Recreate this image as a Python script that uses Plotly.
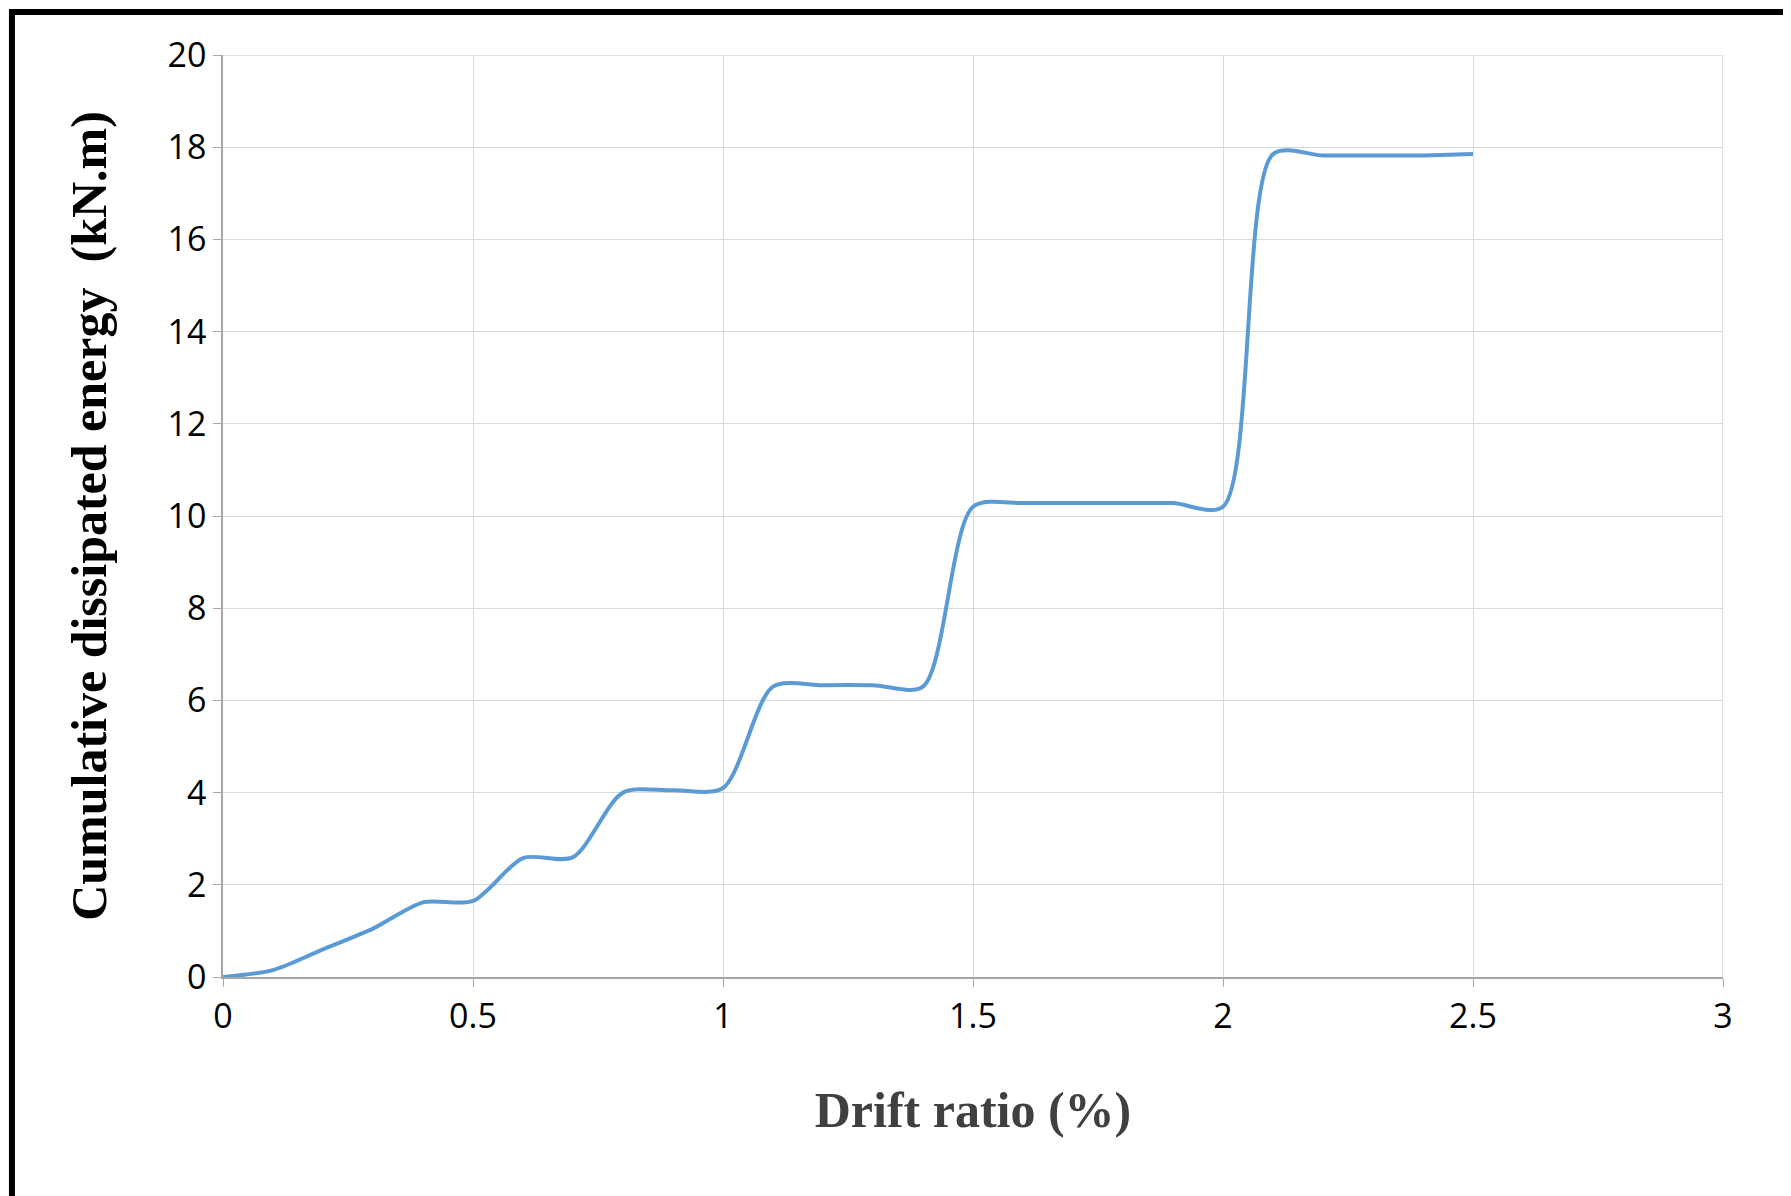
import plotly.graph_objects as go

# Drift ratio (%) and cumulative dissipated energy (kN.m)
drift = [0, 0.1, 0.2, 0.3, 0.4, 0.5, 0.6, 0.7, 0.8, 0.9, 1.0, 1.1, 1.2, 1.3,
         1.4, 1.5, 1.6, 1.7, 1.8, 1.9, 2.0, 2.1, 2.2, 2.3, 2.4, 2.5]
energy = [0, 0.15, 0.6, 1.05, 1.62, 1.65, 2.58, 2.6, 4.0, 4.05, 4.1, 6.3, 6.33, 6.33,
          6.3, 10.2, 10.28, 10.28, 10.28, 10.28, 10.2, 17.85, 17.82, 17.82, 17.82, 17.85]

fig = go.Figure()
fig.add_trace(go.Scatter(x=drift, y=energy, mode="lines",
                         line=dict(color="#5b9bd5", width=4, shape="spline", smoothing=0.8)))

axis_style = dict(showgrid=True, gridcolor="#d9d9d9", gridwidth=1,
                  showline=True, linecolor="#a6a6a6", linewidth=1.5,
                  ticks="outside", tickcolor="#a6a6a6", ticklen=8, zeroline=False,
                  tickfont=dict(family="Open Sans", size=34, color="black"), mirror=False)

fig.update_xaxes(range=[0, 3], dtick=0.5, **axis_style,
                 title=dict(text="<b>Drift ratio (%)</b>", standoff=55,
                            font=dict(family="Liberation Serif", size=50, color="#404040")))
fig.update_yaxes(range=[0, 20], dtick=2, **axis_style,
                 title=dict(text="<b>Cumulative dissipated energy  (kN.m)</b>", standoff=45,
                            font=dict(family="Liberation Serif", size=50, color="black")))

fig.add_shape(type="line", xref="x", yref="paper", x0=3, x1=3, y0=0, y1=1,
              line=dict(color="#d9d9d9", width=1.5))
fig.add_shape(type="line", xref="paper", yref="y", x0=0, x1=1, y0=20, y1=20,
              line=dict(color="#d9d9d9", width=1.5))

fig.update_layout(width=1791, height=1196, plot_bgcolor="white", paper_bgcolor="white",
                  showlegend=False, margin=dict(l=215, r=76, t=47, b=227))

# Outer black frame around the whole chart
fig.add_shape(type="rect", xref="paper", yref="paper", x0=-0.1407, x1=1.048, y0=-0.2419, y1=1.0466,
              line=dict(color="black", width=6))

fig.write_html("out.html")
